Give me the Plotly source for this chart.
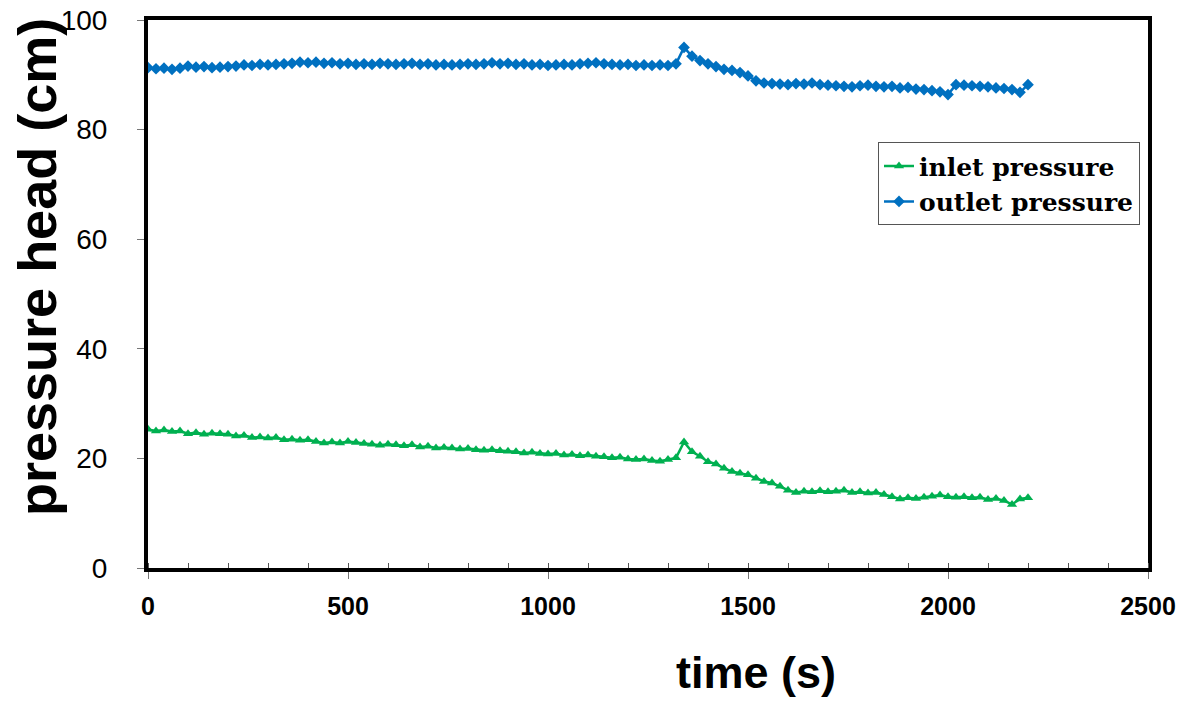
import plotly.graph_objects as go

time_s = [0, 20, 40, 60, 80, 100, 120, 140, 160, 180,
          200, 220, 240, 260, 280, 300, 320, 340, 360, 380,
          400, 420, 440, 460, 480, 500, 520, 540, 560, 580,
          600, 620, 640, 660, 680, 700, 720, 740, 760, 780,
          800, 820, 840, 860, 880, 900, 920, 940, 960, 980,
          1000, 1020, 1040, 1060, 1080, 1100, 1120, 1140, 1160, 1180,
          1200, 1220, 1240, 1260, 1280, 1300, 1320, 1340, 1360, 1380,
          1400, 1420, 1440, 1460, 1480, 1500, 1520, 1540, 1560, 1580,
          1600, 1620, 1640, 1660, 1680, 1700, 1720, 1740, 1760, 1780,
          1800, 1820, 1840, 1860, 1880, 1900, 1920, 1940, 1960, 1980,
          2000, 2020, 2040, 2060, 2080, 2100, 2120, 2140, 2160, 2180,
          2200]

outlet_pressure = [91.3, 91.1, 91.2, 91.0, 91.2, 91.6, 91.4, 91.5, 91.3, 91.4,
                   91.5, 91.6, 91.8, 91.7, 91.9, 91.8, 91.9, 92.0, 92.1, 92.3,
                   92.2, 92.3, 92.1, 92.2, 92.0, 92.1, 91.9, 92.0, 91.9, 92.1,
                   92.0, 91.9, 92.0, 92.1, 91.9, 92.0, 91.8, 91.9, 91.8, 91.9,
                   92.0, 91.9, 92.0, 92.2, 92.0, 92.1, 91.9, 92.0, 91.8, 91.9,
                   91.7, 91.8, 91.9, 91.8, 92.0, 92.1, 92.2, 92.0, 91.9, 91.8,
                   91.9, 91.7, 91.8, 91.7, 91.8, 91.7, 92.0, 95.0, 93.4, 92.6,
                   92.0, 91.5, 91.0, 90.8, 90.4, 89.8, 88.9, 88.5, 88.4, 88.3,
                   88.2, 88.4, 88.3, 88.5, 88.2, 88.1, 88.0, 87.9, 87.8, 88.0,
                   88.1, 87.9, 87.8, 87.9, 87.6, 87.7, 87.4, 87.3, 87.1, 86.9,
                   86.4, 88.2, 88.1, 88.0, 87.9, 87.8, 87.6, 87.5, 87.3, 86.8,
                   88.2]

inlet_pressure = [25.3, 25.0, 25.2, 24.9, 25.0, 24.5, 24.7, 24.4, 24.6, 24.5,
                  24.4, 24.1, 24.2, 23.8, 23.9, 23.7, 23.8, 23.4, 23.5, 23.3,
                  23.4, 23.1, 22.8, 23.0, 22.8, 23.1, 22.9, 22.7, 22.6, 22.4,
                  22.6, 22.5, 22.3, 22.5, 22.1, 22.2, 21.9, 22.0, 21.9, 21.7,
                  21.8, 21.6, 21.5, 21.6, 21.4, 21.3, 21.2, 21.0, 21.1, 20.9,
                  20.8, 20.9, 20.6, 20.7, 20.5, 20.6, 20.4, 20.3, 20.1, 20.2,
                  19.9, 19.8, 19.9, 19.6, 19.5, 19.8, 20.1, 23.0, 21.2, 20.4,
                  19.4, 19.0, 18.2, 17.6, 17.3, 17.0, 16.4, 15.8, 15.5, 14.9,
                  14.2, 13.8, 14.0, 13.9, 14.1, 13.9, 14.0, 14.2, 13.8, 13.9,
                  13.7, 13.8, 13.4, 13.0, 12.6, 12.8, 12.7, 12.9, 13.1, 13.3,
                  13.0, 12.9, 13.0, 12.8, 12.9, 12.5, 12.7, 12.3, 11.6, 12.6,
                  12.8]

series_names = ["inlet pressure", "outlet pressure"]
x_title = "time (s)"
y_title = "pressure head (cm)"
x_ticks = [0, 500, 1000, 1500, 2000, 2500]
y_ticks = [0, 20, 40, 60, 80, 100]

fig = go.Figure()
fig.add_trace(go.Scatter(
    x=time_s, y=inlet_pressure, name=series_names[0], mode="lines+markers",
    line=dict(color="#00B050", width=2.5),
    marker=dict(symbol="triangle-up", size=9, color="#00B050"),
))
fig.add_trace(go.Scatter(
    x=time_s, y=outlet_pressure, name=series_names[1], mode="lines+markers",
    line=dict(color="#0070C0", width=2.5),
    marker=dict(symbol="diamond", size=9, color="#0070C0"),
))

# page body has an 8px margin, so the figure is offset by 8px
fig.update_layout(
    width=1187, height=694,
    margin=dict(l=140, r=47, t=12, b=134, autoexpand=False),
    paper_bgcolor="white", plot_bgcolor="white",
    showlegend=True,
    legend=dict(
        x=0.73, y=0.777, xanchor="left", yanchor="top",
        bgcolor="white", bordercolor="#555555", borderwidth=1,
        font=dict(family="DejaVu Serif", size=25, color="black", weight="bold"),
        itemwidth=30, tracegroupgap=0,
    ),
    annotations=[
        dict(text=f"<b>{x_title}</b>", xref="paper", yref="paper",
             x=(756 - 148) / 1000, y=-(672 - 568) / 548, xanchor="center", yanchor="middle",
             showarrow=False, font=dict(family="Liberation Sans, Arial", size=45, color="black")),
        dict(text=f"<b>{y_title}</b>", xref="paper", yref="paper",
             x=-(148 - 37) / 1000, y=(568 - 267) / 548, xanchor="center", yanchor="middle",
             textangle=-90, showarrow=False,
             font=dict(family="Liberation Sans, Arial", size=54, color="black")),
    ],
)

fig.update_xaxes(
    range=[0, 2500], tickvals=x_ticks, ticktext=[str(v) for v in x_ticks],
    showgrid=False, zeroline=False, automargin=False,
    showline=True, linecolor="black", linewidth=4, mirror=True,
    ticks="outside", ticklen=7, tickwidth=1, tickcolor="#777777",
    minor=dict(ticks="inside", dtick=100, ticklen=5, tickwidth=1, tickcolor="#555555"),
    tickfont=dict(family="Liberation Sans Narrow, Liberation Sans, Arial", size=25,
                  color="black", weight="bold"),
    ticklabelstandoff=6, ticklabeloverflow="allow",
)
fig.update_yaxes(
    range=[0, 100], tickvals=y_ticks, ticktext=[str(v) for v in y_ticks],
    showgrid=False, zeroline=False, automargin=False,
    showline=True, linecolor="black", linewidth=4, mirror=True,
    ticks="outside", ticklen=7, tickwidth=1, tickcolor="#777777",
    tickfont=dict(family="Liberation Sans, Arial", size=28, color="black"),
    ticklabelstandoff=24, ticklabeloverflow="allow",
)

fig.write_html("out.html")
